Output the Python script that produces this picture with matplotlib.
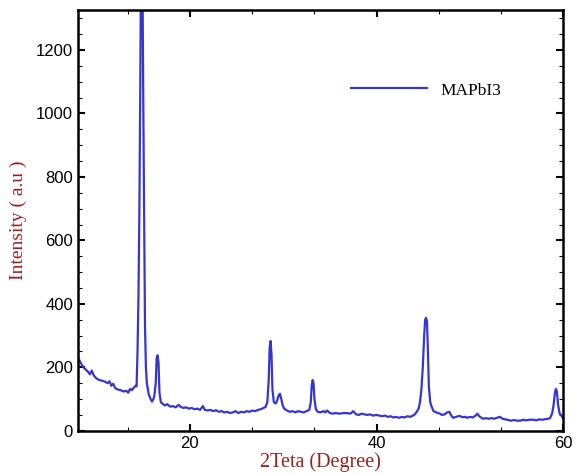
import matplotlib
matplotlib.use("Agg")
import matplotlib.pyplot as plt
from matplotlib.ticker import MultipleLocator

# 2theta (deg) and intensity (a.u.)
two_theta = [
    8.0, 8.3, 8.6, 8.9, 9.1, 9.3, 9.5, 9.7, 10.0, 10.3, 10.6, 10.9, 11.2, 11.4, 11.6,
    11.8, 12.0, 12.3, 12.6, 12.9, 13.2, 13.4, 13.6, 13.8, 14.0, 14.2,
    14.3, 14.4, 14.5, 14.6, 14.7, 14.8, 14.9, 15.0, 15.1, 15.2, 15.3, 15.4, 15.6, 15.8,
    15.95, 16.1, 16.2, 16.35, 16.45, 16.55, 16.65, 16.75, 16.9, 17.1,
    17.3, 17.6, 17.9, 18.2, 18.5, 18.8, 19.0, 19.3, 19.6, 19.9, 20.2, 20.5, 20.8, 21.1,
    21.4, 21.6, 21.9, 22.2, 22.5, 22.8, 23.1, 23.4, 23.7, 24.0, 24.3, 24.6, 24.9, 25.2,
    25.5, 25.8, 26.1, 26.4, 26.7, 27.0, 27.3, 27.6, 27.9, 28.1, 28.3, 28.45, 28.55,
    28.65, 28.75, 28.85, 29.0, 29.2, 29.35, 29.5, 29.65, 29.8, 29.95, 30.1, 30.4, 30.7,
    31.0, 31.3, 31.6, 31.9, 32.2, 32.5, 32.8, 32.95, 33.05, 33.15, 33.25, 33.35, 33.5,
    33.7, 34.0, 34.3, 34.5, 34.7, 35.0, 35.3, 35.6, 36.0, 36.5, 36.8, 37.2, 37.5, 37.8,
    38.1, 38.4, 38.7, 39.0, 39.3, 39.6, 40.0, 40.3, 40.6, 40.9, 41.2, 41.5, 41.8, 42.1,
    42.4, 42.7, 43.0, 43.3, 43.6, 43.9, 44.1, 44.3, 44.5, 44.65, 44.8, 44.95, 45.1,
    45.2, 45.3, 45.4, 45.5, 45.6, 45.75, 45.9, 46.1, 46.4, 46.8, 47.0, 47.3, 47.55,
    47.8, 48.0, 48.2, 48.5, 48.9, 49.2, 49.5, 49.7, 50.0, 50.3, 50.6, 50.8, 51.0, 51.4,
    51.7, 52.0, 52.3, 52.6, 52.9, 53.2, 53.5, 53.8, 54.1, 54.4, 54.7, 55.0, 55.4, 55.7,
    56.0, 56.4, 56.8, 57.1, 57.4, 57.8, 58.1, 58.4, 58.6, 58.8, 58.95, 59.1, 59.2, 59.3,
    59.45, 59.6, 59.75, 60.0,
]
intensity = [
    233, 215, 200, 192, 186, 178, 190, 175, 165, 160, 158, 155, 150, 156, 142,
    148, 135, 130, 128, 124, 126, 120, 132, 128, 136, 142,
    140, 250, 420, 700, 1100, 1600, 1600, 1100, 700, 330, 200, 150, 115, 100,
    92, 100, 110, 150, 230, 238, 215, 120, 90, 85,
    80, 84, 76, 78, 74, 82, 76, 72, 74, 70, 72, 68, 70, 66,
    78, 66, 64, 66, 62, 65, 60, 62, 58, 60, 56, 58, 62, 56,
    60, 58, 62, 60, 64, 62, 66, 68, 72, 75, 90, 160, 260,
    283, 240, 130, 90, 86, 95, 110, 117, 100, 80, 70, 64, 60,
    62, 58, 62, 60, 58, 62, 66, 90, 140, 160, 150, 100, 68,
    60, 58, 62, 58, 64, 56, 54, 56, 54, 56, 56, 54, 62, 52,
    50, 54, 52, 50, 52, 48, 50, 48, 46, 48, 44, 46, 42, 44,
    41, 44, 42, 46, 44, 48, 52, 60, 70, 90, 130, 200, 300,
    350, 356, 345, 250, 139, 90, 76, 62, 58, 54, 50, 52, 58,
    60, 48, 41, 44, 47, 43, 44, 41, 44, 42, 48, 54, 46, 38,
    40, 38, 40, 38, 41, 44, 38, 36, 34, 32, 34, 32, 32, 35,
    33, 35, 35, 33, 36, 35, 37, 38, 41, 55, 80, 120, 132, 125,
    80, 55, 50, 38,
]

label_color = "#9a2020"

fig, ax = plt.subplots(figsize=(5.76, 4.75), dpi=100)
fig.subplots_adjust(left=0.135, right=0.978, top=0.979, bottom=0.093)

ax.plot(two_theta, intensity, color="#3535d0", lw=1.6, label="MAPbI3")

ax.set_xlim(8, 60)
ax.set_ylim(0, 1326)
ax.xaxis.set_major_locator(MultipleLocator(20))
ax.xaxis.set_minor_locator(MultipleLocator(20 / 3))
ax.yaxis.set_major_locator(MultipleLocator(200))
ax.yaxis.set_minor_locator(MultipleLocator(50))
ax.tick_params(which="both", direction="in", top=True, right=True)
ax.tick_params(which="major", length=5, width=1.5, labelsize=12)
ax.tick_params(which="minor", length=3, width=0.8)
for lab in ax.get_xticklabels() + ax.get_yticklabels():
    lab.set_family("Liberation Sans")
for sp in ax.spines.values():
    sp.set_linewidth(1.8)

ax.set_xlabel("2Teta (Degree)", family="Liberation Serif", fontsize=14.5,
              color=label_color, labelpad=1)
ax.set_ylabel("Intensity ( a.u )", family="Liberation Serif", fontsize=14,
              color=label_color)
ax.yaxis.set_label_coords(-0.105, 0.5)

ax.legend(loc="upper left", bbox_to_anchor=(0.53, 0.865), frameon=False,
          handlelength=4.4, handletextpad=0.75,
          prop={"family": "Liberation Serif", "size": 12.5})

fig.savefig("out.png", dpi=100)
